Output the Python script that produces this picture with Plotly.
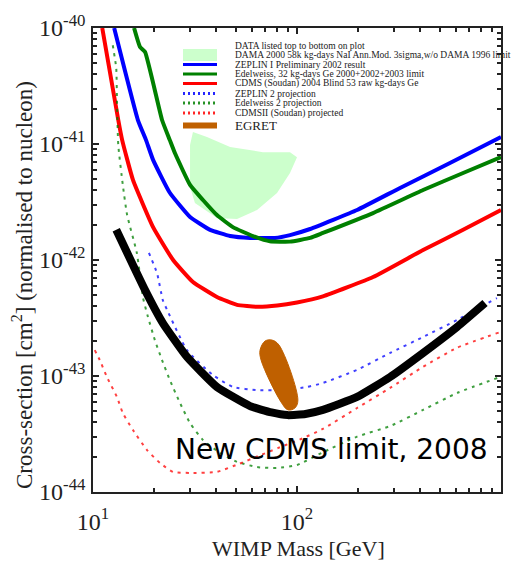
import plotly.graph_objects as go

# ---- Limit curves: WIMP mass [GeV] vs spin-independent cross-section [cm^2] ----
zeplin1_mass = [12.7, 16.6, 18.2, 19.7, 23.8, 29.9, 37.5, 47.0, 58.9, 78.0, 92.5, 116, 197, 320, 562, 1000]
zeplin1_xsec = [1e-40, 1.61e-41, 1.08e-41, 7.3e-42, 3.8e-42, 2.35e-42, 1.82e-42, 1.61e-42,
                1.55e-42, 1.55e-42, 1.64e-42, 1.85e-42, 2.7e-42, 4.18e-42, 6.85e-42, 1.15e-41]

edelweiss_mass = [15.9, 17.0, 18.0, 21.8, 23.8, 25.2, 29.9, 34.6, 40.5, 48.5, 60.8, 73.7, 92.4,
                  116, 134, 236, 415, 652, 1000]
edelweiss_xsec = [1e-40, 6.86e-41, 6.2e-41, 1.61e-41, 1.08e-41, 8.35e-42, 4.44e-42, 3.29e-42,
                  2.44e-42, 1.92e-42, 1.61e-42, 1.45e-42, 1.44e-42, 1.55e-42, 1.71e-42,
                  2.54e-42, 4.01e-42, 5.62e-42, 7.73e-42]

cdms04_mass = [11.1, 13.3, 13.9, 15.7, 19.7, 24.7, 30.9, 40.5, 50.8, 63.7, 80.0, 100, 134,
               236, 415, 652, 1000]
cdms04_xsec = [1e-40, 1.61e-41, 1.08e-41, 4.9e-42, 1.92e-42, 1.0e-42, 6.46e-43, 4.8e-43, 4.1e-43,
               3.95e-43, 4.05e-43, 4.3e-43, 4.85e-43, 7.13e-43, 1.22e-42, 1.82e-42, 2.7e-42]

zeplin2_mass = [18.8, 20.6, 22.0, 23.1, 28.9, 38.7, 48.5, 63.7, 85.3, 112, 134, 197, 286, 415, 608, 955]
zeplin2_xsec = [1.15e-42, 7.7e-43, 4.5e-43, 3.7e-43, 1.67e-43, 1.02e-43, 8.04e-44, 7.57e-44,
                7.57e-44, 8.04e-44, 8.7e-44, 1.13e-43, 1.58e-43, 2.17e-43, 3.04e-43, 4.7e-43]

edelweiss2_mass = [12.5, 13.0, 13.1, 13.3, 14.0, 14.7, 16.4, 17.6, 18.6, 20.1, 21.8, 23.8, 26.7,
                   29.9, 34.6, 42.0, 50.8, 63.7, 79.8, 100, 134, 197, 286, 415, 608, 989]
edelweiss2_xsec = [7.1e-41, 4.5e-41, 2.5e-41, 9.8e-42, 4.44e-42, 2.44e-42, 1.15e-42, 4.7e-43,
                   3.23e-43, 2.04e-43, 1.37e-43, 9.24e-44, 5.85e-44, 3.93e-44, 2.81e-44, 2.17e-44,
                   1.82e-44, 1.64e-44, 1.61e-44, 1.71e-44, 2.2e-44, 3.0e-44, 3.7e-44, 5.1e-44,
                   7.13e-44, 9.8e-44]

cdms2_mass = [10.2, 10.8, 11.7, 13.1, 14.0, 15.7, 18.4, 21.3, 24.7, 29.9, 40.5, 52.0, 65.0, 81.0,
              104, 134, 197, 286, 415, 608, 989]
cdms2_xsec = [1.67e-43, 1.37e-43, 9.8e-44, 6.6e-44, 4.8e-44, 3.42e-44, 2.3e-44, 1.78e-44, 1.49e-44,
              1.46e-44, 1.49e-44, 1.75e-44, 2.05e-44, 2.4e-44, 2.85e-44, 3.5e-44, 5.3e-44, 7.9e-44,
              1.2e-43, 1.75e-43, 2.39e-43]

cdms08_mass = [13.0, 18.0, 22.0, 28.9, 40.5, 58.9, 75.0, 90.0, 110, 134, 197, 286, 415, 608, 835]
cdms08_xsec = [1.82e-42, 5.5e-43, 2.86e-43, 1.46e-43, 8.04e-44, 5.5e-44, 4.85e-44, 4.6e-44,
               4.7e-44, 5.1e-44, 6.6e-44, 9.8e-44, 1.58e-43, 2.64e-43, 4.26e-43]

# ---- Closed regions ----
dama_mass = [30.9, 36.2, 47.0, 68.1, 92.4, 100, 92.4, 79.8, 63.7, 50.8, 40.5, 31.6, 29.9, 29.9, 30.9]
dama_xsec = [1.27e-41, 1.15e-41, 9.4e-42, 8.5e-42, 8.5e-42, 7.7e-42, 5.62e-42, 3.79e-42, 2.7e-42,
             2.26e-42, 2.3e-42, 3.1e-42, 4.25e-42, 9.8e-42, 1.27e-41]

egret_mass = [65.9, 69.7, 75.4, 81.6, 101, 97.7, 90.3, 83.5, 66.7, 65.9]
egret_xsec = [1.67e-43, 2.0e-43, 2.04e-43, 1.85e-43, 6.2e-44, 5.3e-44, 5.1e-44, 5.97e-44, 1.37e-43,
              1.67e-43]

# ---- Legend entries (drawn top to bottom) ----
legend_header = "DATA listed top to bottom on plot"
legend_labels = [
    "DAMA 2000 58k kg-days NaI Ann.Mod. 3sigma,w/o DAMA 1996 limit",
    "ZEPLIN I Preliminary 2002 result",
    "Edelweiss, 32 kg-days Ge 2000+2002+2003 limit",
    "CDMS (Soudan) 2004 Blind 53 raw kg-days Ge",
    "ZEPLIN 2 projection",
    "Edelweiss 2 projection",
    "CDMSII (Soudan) projected",
    "EGRET",
]

x_tickvals = [1e1, 1e2, 1e3]
x_ticktext = ["10<sup>1</sup>", "10<sup>2</sup>", "10<sup>3</sup>"]
y_tickvals = [1e-44, 1e-43, 1e-42, 1e-41, 1e-40]
y_ticktext = ["10<sup>-44</sup>", "10<sup>-43</sup>", "10<sup>-42</sup>", "10<sup>-41</sup>",
              "10<sup>-40</sup>"]

BLUE, GREEN, RED = "#0000ff", "#008000", "#ff0000"
DAMA_FILL, EGRET_FILL = "#ccffcc", "#bf6000"
SERIF = "Liberation Serif, Times New Roman, serif"

W, H = 515, 565
X0, X1, Y0, Y1 = 93, 501, 28, 492   # plot-area frame in page pixels


def fx(p):
    return (p - X0) / (X1 - X0)


def fy(p):
    return (Y1 - p) / (Y1 - Y0)


fig = go.Figure()

fig.add_trace(go.Scatter(x=dama_mass, y=dama_xsec, mode="lines", fill="toself",
                         fillcolor=DAMA_FILL, line=dict(width=0, color=DAMA_FILL),
                         hoverinfo="skip"))

solid = [(zeplin1_mass, zeplin1_xsec, BLUE), (edelweiss_mass, edelweiss_xsec, GREEN),
         (cdms04_mass, cdms04_xsec, RED)]
for m, s, c in solid:
    fig.add_trace(go.Scatter(x=m, y=s, mode="lines",
                             line=dict(color=c, width=4, shape="spline", smoothing=0.4)))

dotted = [(zeplin2_mass, zeplin2_xsec, BLUE), (edelweiss2_mass, edelweiss2_xsec, GREEN),
          (cdms2_mass, cdms2_xsec, RED)]
for m, s, c in dotted:
    fig.add_trace(go.Scatter(x=m, y=s, mode="lines", opacity=0.75,
                             line=dict(color=c, width=2, dash="3px,5px",
                                       shape="spline", smoothing=0.5)))

fig.add_trace(go.Scatter(x=cdms08_mass, y=cdms08_xsec, mode="lines",
                         line=dict(color="black", width=8, shape="spline", smoothing=0.4)))

fig.add_trace(go.Scatter(x=egret_mass, y=egret_xsec, mode="lines", fill="toself",
                         fillcolor=EGRET_FILL, line=dict(width=1, color=EGRET_FILL,
                                                         shape="spline", smoothing=1.0)))

axis_common = dict(
    type="log", showgrid=False, zeroline=False, showline=True, linecolor="#222",
    linewidth=1.5, mirror="ticks", ticks="inside", ticklen=6, tickwidth=1.5,
    tickcolor="#222", tickfont=dict(family=SERIF, size=24, color="#222"),
)

minor_x = [k * 10 ** e for e in (1, 2) for k in range(2, 10)]
minor_y = [k * 10.0 ** e for e in (-44, -43, -42, -41) for k in range(2, 10)]

fig.update_xaxes(range=[1, 3], tickvals=x_tickvals, ticktext=x_ticktext,
                 minor=dict(tickvals=minor_x, ticks="inside", ticklen=4, tickwidth=1.5,
                            tickcolor="#222"),
                 ticklabelstandoff=7, **axis_common)
fig.update_yaxes(range=[-44, -40], tickvals=y_tickvals, ticktext=y_ticktext,
                 minor=dict(tickvals=minor_y, ticks="inside", ticklen=4, tickwidth=1.5,
                            tickcolor="#222"),
                 ticklabelstandoff=1, **axis_common)

annotations = []
shapes = []

# legend header and entries
row_y = [55, 64.5, 74, 83.5, 93.5, 103, 113, 125.5]
annotations.append(dict(text=legend_header, x=fx(233), y=fy(45.5), xref="paper", yref="paper",
                        xanchor="left", yanchor="middle", showarrow=False,
                        font=dict(family=SERIF, size=9.5, color="#222")))
for i, label in enumerate(legend_labels):
    size = 13 if label == "EGRET" else 9.5
    annotations.append(dict(text=label, x=fx(233), y=fy(row_y[i]), xref="paper", yref="paper",
                            xanchor="left", yanchor="middle", showarrow=False,
                            font=dict(family=SERIF, size=size, color="#222")))

# legend swatches
shapes.append(dict(type="rect", xref="paper", yref="paper", x0=fx(183), x1=fx(217),
                   y0=fy(61), y1=fy(49), fillcolor=DAMA_FILL, line=dict(width=0)))
for i, c in enumerate([BLUE, GREEN, RED]):
    yy = fy(row_y[i + 1])
    shapes.append(dict(type="line", xref="paper", yref="paper", x0=fx(183), x1=fx(217),
                       y0=yy, y1=yy, line=dict(color=c, width=3)))
for i, c in enumerate([BLUE, GREEN, RED]):
    yy = fy(row_y[i + 4])
    shapes.append(dict(type="line", xref="paper", yref="paper", x0=fx(183), x1=fx(217),
                       y0=yy, y1=yy, opacity=0.85,
                       line=dict(color=c, width=3, dash="2px,3px")))
shapes.append(dict(type="line", xref="paper", yref="paper", x0=fx(183), x1=fx(217),
                   y0=fy(125.5), y1=fy(125.5), line=dict(color=EGRET_FILL, width=6)))

# headline for the 2008 result
annotations.append(dict(text="New CDMS limit, 2008", x=fx(331), y=fy(449), xref="paper",
                        yref="paper", xanchor="center", yanchor="middle", showarrow=False,
                        font=dict(family="Comic Sans MS, DejaVu Sans, sans-serif", size=28,
                                  color="black")))

# axis titles
annotations.append(dict(text="WIMP Mass [GeV]", x=fx(298), y=fy(548), xref="paper",
                        yref="paper", xanchor="center", yanchor="middle", showarrow=False,
                        font=dict(family=SERIF, size=22, color="#222")))
annotations.append(dict(text="Cross-section [cm<sup>2</sup>] (normalised to nucleon)",
                        x=fx(22), y=fy(285), xref="paper", yref="paper", textangle=-90,
                        xanchor="center", yanchor="middle", showarrow=False,
                        font=dict(family=SERIF, size=23, color="#222")))

fig.update_layout(
    width=W, height=H, showlegend=False,
    margin=dict(l=X0, r=W - X1, t=Y0, b=H - Y1, pad=0),
    paper_bgcolor="white", plot_bgcolor="white",
    annotations=annotations, shapes=shapes,
)

fig.write_html("out.html")
